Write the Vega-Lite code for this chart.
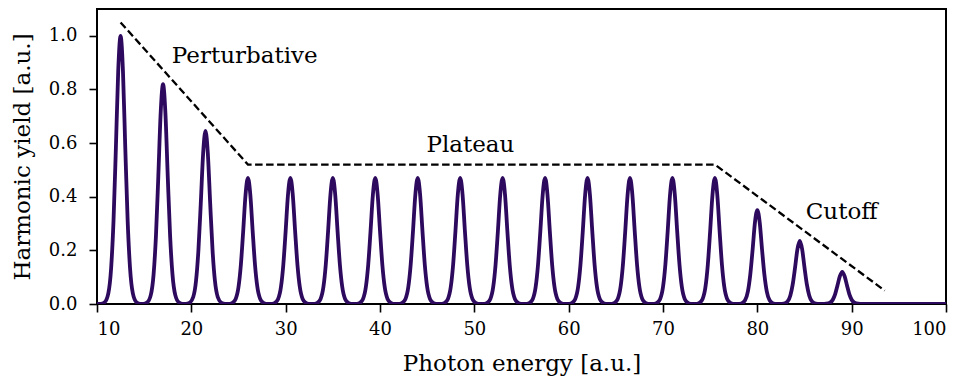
{
  "$schema": "https://vega.github.io/schema/vega-lite/v6.json",
  "width": 849,
  "height": 295,
  "autosize": {"type": "none"},
  "padding": {"left": 97, "top": 9, "right": 18, "bottom": 77},
  "config": {
    "font": "DejaVu Serif",
    "view": {"stroke": "#000000", "strokeWidth": 2},
    "axis": {
      "domain": false,
      "grid": false,
      "tickColor": "#000000",
      "tickWidth": 1.6,
      "tickSize": 8,
      "labelFont": "DejaVu Serif",
      "labelFontSize": 18,
      "labelColor": "#000000",
      "titleFont": "DejaVu Serif",
      "titleFontSize": 23,
      "titleFontWeight": "normal",
      "titleColor": "#000000"
    }
  },
  "datasets": {
    "spectrum": [
      {"x": 10, "y": 0},
      {"x": 10.4, "y": 0}, {"x": 10.8, "y": 0.006}, {"x": 11.2, "y": 0.04}, {"x": 11.5, "y": 0.135}, {"x": 11.75, "y": 0.31}, {"x": 12, "y": 0.58}, {"x": 12.25, "y": 0.87}, {"x": 12.5, "y": 1.0}, {"x": 12.75, "y": 0.87}, {"x": 13, "y": 0.58}, {"x": 13.25, "y": 0.31}, {"x": 13.5, "y": 0.135}, {"x": 13.8, "y": 0.04}, {"x": 14.2, "y": 0.006}, {"x": 14.6, "y": 0},
      {"x": 14.9, "y": 0}, {"x": 15.3, "y": 0.005}, {"x": 15.7, "y": 0.033}, {"x": 16, "y": 0.111}, {"x": 16.25, "y": 0.254}, {"x": 16.5, "y": 0.476}, {"x": 16.75, "y": 0.713}, {"x": 17, "y": 0.82}, {"x": 17.25, "y": 0.713}, {"x": 17.5, "y": 0.476}, {"x": 17.75, "y": 0.254}, {"x": 18, "y": 0.111}, {"x": 18.3, "y": 0.033}, {"x": 18.7, "y": 0.005}, {"x": 19.1, "y": 0},
      {"x": 19.4, "y": 0}, {"x": 19.8, "y": 0.004}, {"x": 20.2, "y": 0.026}, {"x": 20.5, "y": 0.087}, {"x": 20.75, "y": 0.2}, {"x": 21, "y": 0.374}, {"x": 21.25, "y": 0.561}, {"x": 21.5, "y": 0.645}, {"x": 21.75, "y": 0.561}, {"x": 22, "y": 0.374}, {"x": 22.25, "y": 0.2}, {"x": 22.5, "y": 0.087}, {"x": 22.8, "y": 0.026}, {"x": 23.2, "y": 0.004}, {"x": 23.6, "y": 0},
      {"x": 23.9, "y": 0}, {"x": 24.3, "y": 0.003}, {"x": 24.7, "y": 0.019}, {"x": 25, "y": 0.063}, {"x": 25.25, "y": 0.146}, {"x": 25.5, "y": 0.273}, {"x": 25.75, "y": 0.409}, {"x": 26, "y": 0.47}, {"x": 26.25, "y": 0.409}, {"x": 26.5, "y": 0.273}, {"x": 26.75, "y": 0.146}, {"x": 27, "y": 0.063}, {"x": 27.3, "y": 0.019}, {"x": 27.7, "y": 0.003}, {"x": 28.1, "y": 0},
      {"x": 28.4, "y": 0}, {"x": 28.8, "y": 0.003}, {"x": 29.2, "y": 0.019}, {"x": 29.5, "y": 0.063}, {"x": 29.75, "y": 0.146}, {"x": 30, "y": 0.273}, {"x": 30.25, "y": 0.409}, {"x": 30.5, "y": 0.47}, {"x": 30.75, "y": 0.409}, {"x": 31, "y": 0.273}, {"x": 31.25, "y": 0.146}, {"x": 31.5, "y": 0.063}, {"x": 31.8, "y": 0.019}, {"x": 32.2, "y": 0.003}, {"x": 32.6, "y": 0},
      {"x": 32.9, "y": 0}, {"x": 33.3, "y": 0.003}, {"x": 33.7, "y": 0.019}, {"x": 34, "y": 0.063}, {"x": 34.25, "y": 0.146}, {"x": 34.5, "y": 0.273}, {"x": 34.75, "y": 0.409}, {"x": 35, "y": 0.47}, {"x": 35.25, "y": 0.409}, {"x": 35.5, "y": 0.273}, {"x": 35.75, "y": 0.146}, {"x": 36, "y": 0.063}, {"x": 36.3, "y": 0.019}, {"x": 36.7, "y": 0.003}, {"x": 37.1, "y": 0},
      {"x": 37.4, "y": 0}, {"x": 37.8, "y": 0.003}, {"x": 38.2, "y": 0.019}, {"x": 38.5, "y": 0.063}, {"x": 38.75, "y": 0.146}, {"x": 39, "y": 0.273}, {"x": 39.25, "y": 0.409}, {"x": 39.5, "y": 0.47}, {"x": 39.75, "y": 0.409}, {"x": 40, "y": 0.273}, {"x": 40.25, "y": 0.146}, {"x": 40.5, "y": 0.063}, {"x": 40.8, "y": 0.019}, {"x": 41.2, "y": 0.003}, {"x": 41.6, "y": 0},
      {"x": 41.9, "y": 0}, {"x": 42.3, "y": 0.003}, {"x": 42.7, "y": 0.019}, {"x": 43, "y": 0.063}, {"x": 43.25, "y": 0.146}, {"x": 43.5, "y": 0.273}, {"x": 43.75, "y": 0.409}, {"x": 44, "y": 0.47}, {"x": 44.25, "y": 0.409}, {"x": 44.5, "y": 0.273}, {"x": 44.75, "y": 0.146}, {"x": 45, "y": 0.063}, {"x": 45.3, "y": 0.019}, {"x": 45.7, "y": 0.003}, {"x": 46.1, "y": 0},
      {"x": 46.4, "y": 0}, {"x": 46.8, "y": 0.003}, {"x": 47.2, "y": 0.019}, {"x": 47.5, "y": 0.063}, {"x": 47.75, "y": 0.146}, {"x": 48, "y": 0.273}, {"x": 48.25, "y": 0.409}, {"x": 48.5, "y": 0.47}, {"x": 48.75, "y": 0.409}, {"x": 49, "y": 0.273}, {"x": 49.25, "y": 0.146}, {"x": 49.5, "y": 0.063}, {"x": 49.8, "y": 0.019}, {"x": 50.2, "y": 0.003}, {"x": 50.6, "y": 0},
      {"x": 50.9, "y": 0}, {"x": 51.3, "y": 0.003}, {"x": 51.7, "y": 0.019}, {"x": 52, "y": 0.063}, {"x": 52.25, "y": 0.146}, {"x": 52.5, "y": 0.273}, {"x": 52.75, "y": 0.409}, {"x": 53, "y": 0.47}, {"x": 53.25, "y": 0.409}, {"x": 53.5, "y": 0.273}, {"x": 53.75, "y": 0.146}, {"x": 54, "y": 0.063}, {"x": 54.3, "y": 0.019}, {"x": 54.7, "y": 0.003}, {"x": 55.1, "y": 0},
      {"x": 55.4, "y": 0}, {"x": 55.8, "y": 0.003}, {"x": 56.2, "y": 0.019}, {"x": 56.5, "y": 0.063}, {"x": 56.75, "y": 0.146}, {"x": 57, "y": 0.273}, {"x": 57.25, "y": 0.409}, {"x": 57.5, "y": 0.47}, {"x": 57.75, "y": 0.409}, {"x": 58, "y": 0.273}, {"x": 58.25, "y": 0.146}, {"x": 58.5, "y": 0.063}, {"x": 58.8, "y": 0.019}, {"x": 59.2, "y": 0.003}, {"x": 59.6, "y": 0},
      {"x": 59.9, "y": 0}, {"x": 60.3, "y": 0.003}, {"x": 60.7, "y": 0.019}, {"x": 61, "y": 0.063}, {"x": 61.25, "y": 0.146}, {"x": 61.5, "y": 0.273}, {"x": 61.75, "y": 0.409}, {"x": 62, "y": 0.47}, {"x": 62.25, "y": 0.409}, {"x": 62.5, "y": 0.273}, {"x": 62.75, "y": 0.146}, {"x": 63, "y": 0.063}, {"x": 63.3, "y": 0.019}, {"x": 63.7, "y": 0.003}, {"x": 64.1, "y": 0},
      {"x": 64.4, "y": 0}, {"x": 64.8, "y": 0.003}, {"x": 65.2, "y": 0.019}, {"x": 65.5, "y": 0.063}, {"x": 65.75, "y": 0.146}, {"x": 66, "y": 0.273}, {"x": 66.25, "y": 0.409}, {"x": 66.5, "y": 0.47}, {"x": 66.75, "y": 0.409}, {"x": 67, "y": 0.273}, {"x": 67.25, "y": 0.146}, {"x": 67.5, "y": 0.063}, {"x": 67.8, "y": 0.019}, {"x": 68.2, "y": 0.003}, {"x": 68.6, "y": 0},
      {"x": 68.9, "y": 0}, {"x": 69.3, "y": 0.003}, {"x": 69.7, "y": 0.019}, {"x": 70, "y": 0.063}, {"x": 70.25, "y": 0.146}, {"x": 70.5, "y": 0.273}, {"x": 70.75, "y": 0.409}, {"x": 71, "y": 0.47}, {"x": 71.25, "y": 0.409}, {"x": 71.5, "y": 0.273}, {"x": 71.75, "y": 0.146}, {"x": 72, "y": 0.063}, {"x": 72.3, "y": 0.019}, {"x": 72.7, "y": 0.003}, {"x": 73.1, "y": 0},
      {"x": 73.4, "y": 0}, {"x": 73.8, "y": 0.003}, {"x": 74.2, "y": 0.019}, {"x": 74.5, "y": 0.063}, {"x": 74.75, "y": 0.146}, {"x": 75, "y": 0.273}, {"x": 75.25, "y": 0.409}, {"x": 75.5, "y": 0.47}, {"x": 75.75, "y": 0.409}, {"x": 76, "y": 0.273}, {"x": 76.25, "y": 0.146}, {"x": 76.5, "y": 0.063}, {"x": 76.8, "y": 0.019}, {"x": 77.2, "y": 0.003}, {"x": 77.6, "y": 0},
      {"x": 77.9, "y": 0}, {"x": 78.3, "y": 0.002}, {"x": 78.7, "y": 0.014}, {"x": 79, "y": 0.047}, {"x": 79.25, "y": 0.109}, {"x": 79.5, "y": 0.203}, {"x": 79.75, "y": 0.305}, {"x": 80, "y": 0.35}, {"x": 80.25, "y": 0.305}, {"x": 80.5, "y": 0.203}, {"x": 80.75, "y": 0.109}, {"x": 81, "y": 0.047}, {"x": 81.3, "y": 0.014}, {"x": 81.7, "y": 0.002}, {"x": 82.1, "y": 0},
      {"x": 82.4, "y": 0}, {"x": 82.8, "y": 0.001}, {"x": 83.2, "y": 0.009}, {"x": 83.5, "y": 0.032}, {"x": 83.75, "y": 0.073}, {"x": 84, "y": 0.136}, {"x": 84.25, "y": 0.204}, {"x": 84.5, "y": 0.235}, {"x": 84.75, "y": 0.204}, {"x": 85, "y": 0.136}, {"x": 85.25, "y": 0.073}, {"x": 85.5, "y": 0.032}, {"x": 85.8, "y": 0.009}, {"x": 86.2, "y": 0.001}, {"x": 86.6, "y": 0},
      {"x": 86.9, "y": 0}, {"x": 87.3, "y": 0.001}, {"x": 87.7, "y": 0.005}, {"x": 88, "y": 0.016}, {"x": 88.25, "y": 0.037}, {"x": 88.5, "y": 0.07}, {"x": 88.75, "y": 0.104}, {"x": 89, "y": 0.12}, {"x": 89.25, "y": 0.104}, {"x": 89.5, "y": 0.07}, {"x": 89.75, "y": 0.037}, {"x": 90, "y": 0.016}, {"x": 90.3, "y": 0.005}, {"x": 90.7, "y": 0.001}, {"x": 91.1, "y": 0},
      {"x": 100, "y": 0}
    ],
    "envelope": [
      {"x": 12.5, "y": 1.05},
      {"x": 26, "y": 0.52},
      {"x": 75.5, "y": 0.52},
      {"x": 93.5, "y": 0.05}
    ],
    "labels": [
      {"x": 25.66, "y": 0.898, "text": "Perturbative"},
      {"x": 49.58, "y": 0.565, "text": "Plateau"},
      {"x": 88.94, "y": 0.318, "text": "Cutoff"}
    ]
  },
  "encoding": {
    "x": {
      "field": "x",
      "type": "quantitative",
      "scale": {"domain": [10, 100], "nice": false, "zero": false},
      "axis": {"title": "Photon energy [a.u.]", "values": [10, 20, 30, 40, 50, 60, 70, 80, 90, 100], "labelPadding": 8, "titlePadding": 14}
    },
    "y": {
      "field": "y",
      "type": "quantitative",
      "scale": {"domain": [0, 1.1], "nice": false},
      "axis": {"title": "Harmonic yield [a.u.]", "values": [0, 0.2, 0.4, 0.6, 0.8, 1.0], "format": ".1f", "labelPadding": 12, "titlePadding": 14}
    }
  },
  "layer": [
    {
      "data": {"name": "spectrum"},
      "mark": {"type": "line", "interpolate": "monotone", "color": "#2d0a5e", "strokeWidth": 3.8, "clip": true}
    },
    {
      "data": {"name": "envelope"},
      "mark": {"type": "line", "color": "#000000", "strokeWidth": 2.3, "strokeDash": [7.5, 3.5]}
    },
    {
      "data": {"name": "labels"},
      "mark": {"type": "text", "font": "DejaVu Serif", "fontSize": 23, "color": "#000000", "align": "center", "baseline": "alphabetic"},
      "encoding": {"text": {"field": "text"}}
    }
  ]
}
